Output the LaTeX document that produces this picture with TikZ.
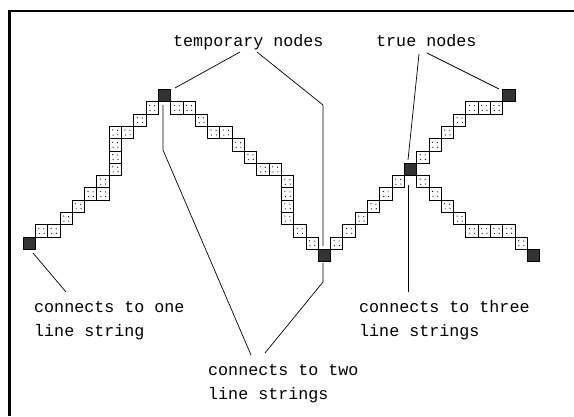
\documentclass[tikz,border=0pt]{standalone}
\usepackage{fontspec}
\setmonofont{Liberation Mono}
\usepackage{tikz}
\tikzstyle{cell} = [draw, fill=white, line width=0.8pt, path picture={
	\fill[black] ([shift={(-2.6pt,2.5pt)}]path picture bounding box.center) circle (0.6pt);
	\fill[black] ([shift={(2.4pt,2.1pt)}]path picture bounding box.center)  circle (0.6pt);
	\fill[black] ([shift={(-2.1pt,-2.6pt)}]path picture bounding box.center) circle (0.6pt);
	\fill[black] ([shift={(2.7pt,-2.4pt)}]path picture bounding box.center) circle (0.6pt);}]
\tikzstyle{tnode} = [draw, fill=black!80, line width=0.8pt, minimum size=12.3pt, inner sep=0pt]
\tikzstyle{leader} = [draw, line width=0.7pt]
\tikzstyle{txt} = [font=\ttfamily\fontsize{16.7}{20}\selectfont, inner sep=0pt, anchor=base west]

\begin{document}
\begin{tikzpicture}[x=1pt, y=-1pt]
	\useasboundingbox (0,0) rectangle (574,416);
	% -------------- Frame --------------
	\draw[line width=2.4pt] (9.5,416) -- (9.5,11) -- (574,11);
	\begin{scope}[shift={(23,249.3)}, x=12.3pt, y=12.3pt]
	% -------------- Line string 1 --------------
	\node[tnode] (endA) at (0.5,0.5) {};
	\draw[cell] (1,1)  rectangle (2,2);
	\draw[cell] (2,1)  rectangle (3,2);
	\draw[cell] (3,2)  rectangle (4,3);
	\draw[cell] (4,3)  rectangle (5,4);
	\draw[cell] (5,4)  rectangle (6,5);
	\draw[cell] (6,4)  rectangle (7,5);
	\draw[cell] (6,5)  rectangle (7,6);
	\draw[cell] (7,6)  rectangle (8,7);
	\draw[cell] (7,7)  rectangle (8,8);
	\draw[cell] (7,8)  rectangle (8,9);
	\draw[cell] (7,9)  rectangle (8,10);
	\draw[cell] (8,9)  rectangle (9,10);
	\draw[cell] (9,10) rectangle (10,11);
	\draw[cell] (10,11) rectangle (11,12);
	\node[tnode] (tmpA) at (11.5,12.5) {};
	% -------------- Line string 2 --------------
	\draw[cell] (12,11) rectangle (13,12);
	\draw[cell] (13,11) rectangle (14,12);
	\draw[cell] (14,10) rectangle (15,11);
	\draw[cell] (15,9)  rectangle (16,10);
	\draw[cell] (16,9)  rectangle (17,10);
	\draw[cell] (17,8)  rectangle (18,9);
	\draw[cell] (18,7)  rectangle (19,8);
	\draw[cell] (19,6)  rectangle (20,7);
	\draw[cell] (20,6)  rectangle (21,7);
	\draw[cell] (21,5)  rectangle (22,6);
	\draw[cell] (21,4)  rectangle (22,5);
	\draw[cell] (21,3)  rectangle (22,4);
	\draw[cell] (21,2)  rectangle (22,3);
	\draw[cell] (22,1)  rectangle (23,2);
	\draw[cell] (23,0)  rectangle (24,1);
	\node[tnode] (tmpB) at (24.5,-0.5) {};
	% -------------- Line string 3 --------------
	\draw[cell] (25,0)  rectangle (26,1);
	\draw[cell] (26,1)  rectangle (27,2);
	\draw[cell] (27,2)  rectangle (28,3);
	\draw[cell] (28,3)  rectangle (29,4);
	\draw[cell] (29,4)  rectangle (30,5);
	\draw[cell] (30,5)  rectangle (31,6);
	\node[tnode] (trueA) at (31.5,6.5) {};
	% -------------- Line string 4 --------------
	\draw[cell] (32,7)  rectangle (33,8);
	\draw[cell] (33,8)  rectangle (34,9);
	\draw[cell] (34,9)  rectangle (35,10);
	\draw[cell] (35,10) rectangle (36,11);
	\draw[cell] (36,11) rectangle (37,12);
	\draw[cell] (37,11) rectangle (38,12);
	\draw[cell] (38,11) rectangle (39,12);
	\node[tnode] (trueB) at (39.5,12.5) {};
	% -------------- Line string 5 --------------
	\draw[cell] (32,5)  rectangle (33,6);
	\draw[cell] (33,4)  rectangle (34,5);
	\draw[cell] (34,3)  rectangle (35,4);
	\draw[cell] (35,2)  rectangle (36,3);
	\draw[cell] (36,1)  rectangle (37,2);
	\draw[cell] (37,1)  rectangle (38,2);
	\draw[cell] (38,1)  rectangle (39,2);
	\draw[cell] (39,1)  rectangle (40,2);
	\draw[cell] (40,0)  rectangle (41,1);
	\node[tnode] (endB) at (41.5,-0.5) {};
	\end{scope}
	% -------------- Labels --------------
	\node[txt] (temp)   at (173,46)  {temporary nodes};
	\node[txt] (true)   at (376,46)  {true nodes};
	\node[txt] (one)    at (34,312)  {connects to one};
	\node[txt] (one2)   at (34,336)  {line string};
	\node[txt] (two)    at (208,375) {connects to two};
	\node[txt] (two2)   at (208,399) {line strings};
	\node[txt] (three)  at (359,312) {connects to three};
	\node[txt] (three2) at (359,336) {line strings};
	% -------------- Leaders --------------
	\coordinate (l1a) at (33,253);   \coordinate (l1b) at (66,292);
	\coordinate (l2a) at (163,105);  \coordinate (l2b) at (163,150);  \coordinate (l2c) at (251,355);
	\coordinate (l3a) at (323,263);  \coordinate (l3b) at (323,282);  \coordinate (l3c) at (265,353);
	\coordinate (l4a) at (240,52);   \coordinate (l4b) at (175,88);
	\coordinate (l5a) at (257,52);   \coordinate (l5b) at (323,105);  \coordinate (l5c) at (323,246);
	\coordinate (l6a) at (419,54);   \coordinate (l6b) at (408,160);
	\coordinate (l7a) at (427,53);   \coordinate (l7b) at (499,89);
	\coordinate (l8a) at (408,185);  \coordinate (l8b) at (408,292);
	\draw[leader] (l1a) -- (l1b);
	\draw[leader] (l2a) -- (l2b) -- (l2c);
	\draw[leader] (l3a) -- (l3b) -- (l3c);
	\draw[leader] (l4a) -- (l4b);
	\draw[leader] (l5a) -- (l5b) -- (l5c);
	\draw[leader] (l6a) -- (l6b);
	\draw[leader] (l7a) -- (l7b);
	\draw[leader] (l8a) -- (l8b);
\end{tikzpicture}
\end{document}
